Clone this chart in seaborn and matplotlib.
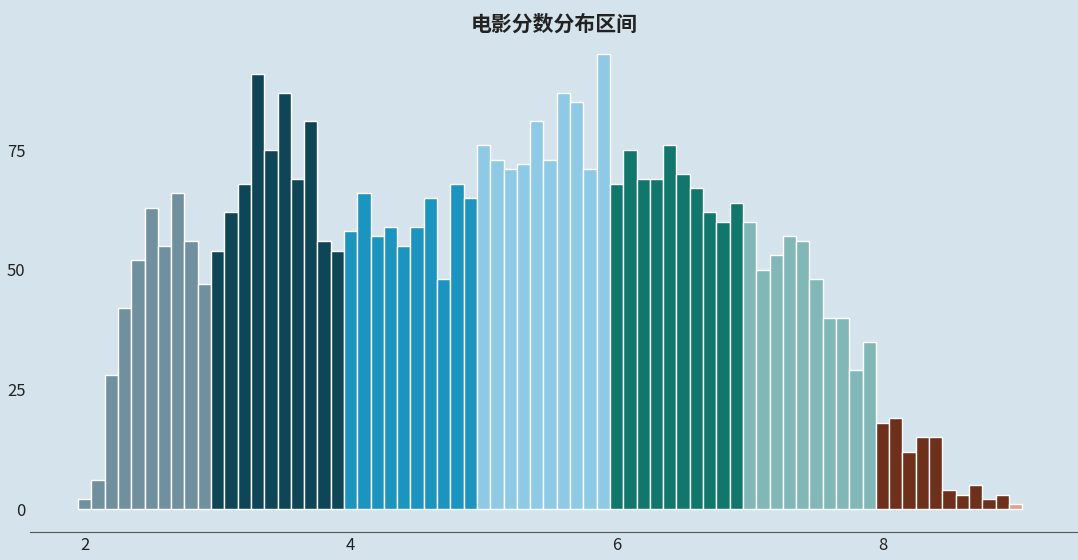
import matplotlib
matplotlib.use("Agg")
import matplotlib.pyplot as plt
import seaborn as sns
import pandas as pd

scores = [2.0, 2.1, 2.2, 2.3, 2.4, 2.5, 2.6, 2.7, 2.8, 2.9,
          3.0, 3.1, 3.2, 3.3, 3.4, 3.5, 3.6, 3.7, 3.8, 3.9,
          4.0, 4.1, 4.2, 4.3, 4.4, 4.5, 4.6, 4.7, 4.8, 4.9,
          5.0, 5.1, 5.2, 5.3, 5.4, 5.5, 5.6, 5.7, 5.8, 5.9,
          6.0, 6.1, 6.2, 6.3, 6.4, 6.5, 6.6, 6.7, 6.8, 6.9,
          7.0, 7.1, 7.2, 7.3, 7.4, 7.5, 7.6, 7.7, 7.8, 7.9,
          8.0, 8.1, 8.2, 8.3, 8.4, 8.5, 8.6, 8.7, 8.8, 8.9,
          9.0]
counts = [2, 6, 28, 42, 52, 63, 55, 66, 56, 47,
          54, 62, 68, 91, 75, 87, 69, 81, 56, 54,
          58, 66, 57, 59, 55, 59, 65, 48, 68, 65,
          76, 73, 71, 72, 81, 73, 87, 85, 71, 95,
          68, 75, 69, 69, 76, 70, 67, 62, 60, 64,
          60, 50, 53, 57, 56, 48, 40, 40, 29, 35,
          18, 19, 12, 15, 15, 4, 3, 5, 2, 3,
          1]
groups = ["2"] * 10 + ["3"] * 10 + ["4"] * 10 + ["5"] * 10 + ["6"] * 10 + ["7"] * 10 + ["8"] * 10 + ["9"]
palette = {"2": "#6993a7", "3": "#034d63", "4": "#00a2da", "5": "#7fd0f4",
           "6": "#00887b", "7": "#78c0bf", "8": "#7c290c", "9": "#ef967b"}
yticks = [0, 25, 50, 75]
xticks = [2, 4, 6, 8]

df = pd.DataFrame({"score": scores, "count": counts, "group": groups})

sns.set_style("white")
plt.rcParams["font.family"] = ["Noto Sans CJK SC", "DejaVu Sans"]
bg = "#d5e4ec"
fig = plt.figure(figsize=(10.78, 5.6), dpi=100, facecolor=bg)
ax = fig.add_axes([0.028, 0.05, 0.972, 0.87])
ax.set_facecolor(bg)
sns.barplot(data=df, x="score", y="count", hue="group", palette=palette,
            native_scale=True, dodge=False, width=1.0, legend=False,
            edgecolor="white", linewidth=1.0, ax=ax)
ax.set_xlim(1.59, 9.47)
ax.set_ylim(-4.8, 97)
ax.set_yticks(yticks)
ax.set_xticks(xticks)
ax.set_xticklabels([str(t) for t in xticks])
ax.tick_params(length=0, labelsize=12, colors="#222222")
ax.set_xlabel("")
ax.set_ylabel("")
for s in ["top", "right", "left"]:
    ax.spines[s].set_visible(False)
ax.spines["bottom"].set_color("#555555")
ax.set_title("电影分数分布区间", fontsize=15, fontweight="bold", color="#222222", pad=10)
fig.savefig("out.png", dpi=100, facecolor=bg)
